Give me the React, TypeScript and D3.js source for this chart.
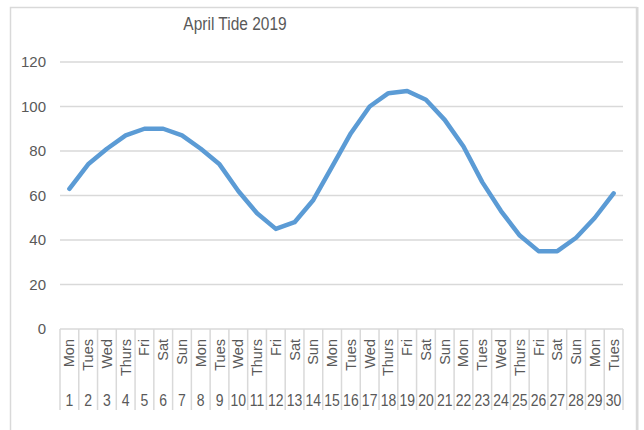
import React from "react";
import * as d3 from "d3";

const days = ["Mon","Tues","Wed","Thurs","Fri","Sat","Sun","Mon","Tues","Wed","Thurs","Fri","Sat","Sun","Mon","Tues","Wed","Thurs","Fri","Sat","Sun","Mon","Tues","Wed","Thurs","Fri","Sat","Sun","Mon","Tues"];
const dates = ["1","2","3","4","5","6","7","8","9","10","11","12","13","14","15","16","17","18","19","20","21","22","23","24","25","26","27","28","29","30"];
const tide = [63,74,81,87,90,90,87,81,74,62,52,45,48,58,73,88,100,106,107,103,94,82,66,53,42,35,35,41,50,61];
const yTicks = [0,20,40,60,80,100,120];
const title = "April Tide 2019";

const W = 644, H = 430;
const left = 60, right = 623, top = 62, bottom = 329;
const FONT = "'Liberation Sans', Arial, sans-serif";
const TXT = "#595959";
const GRID = "#d9d9d9";

export default function App() {
  const x = d3.scaleBand<number>().domain(d3.range(tide.length)).range([left, right]).padding(0);
  const y = d3.scaleLinear().domain([0, 120]).range([bottom, top]);
  const line = d3.line<number>().x((_, i) => (x(i) as number) + x.bandwidth() / 2).y((d) => y(d));
  const bounds = d3.range(tide.length + 1).map((i) => left + i * x.bandwidth());
  return (
    <svg width={W} height={H} style={{ position: "absolute", left: 0, top: 0, background: "#fff" }} fontFamily={FONT}>
      <rect x={10.5} y={7.5} width={626} height={440} fill="#fff" stroke={GRID} strokeWidth={1.5} />
      <line x1={637.5} x2={637.5} y1={7} y2={H} stroke={GRID} strokeWidth={2} />
      <text transform="translate(235,30) scale(1,1.15)" textAnchor="middle" fontSize={15.5} fill={TXT}>{title}</text>
      {yTicks.map((t) => (
        <g key={t}>
          <line x1={left} x2={right} y1={y(t)} y2={y(t)} stroke={GRID} strokeWidth={1.5} />
          <text x={46} y={y(t)} dy="0.35em" textAnchor="end" fontSize={15} fill={TXT}>{t}</text>
        </g>
      ))}
      {bounds.map((b, i) => (
        <line key={i} x1={b} x2={b} y1={bottom} y2={410} stroke={GRID} strokeWidth={1.5} />
      ))}
      {days.map((d, i) => {
        const cx = (x(i) as number) + x.bandwidth() / 2;
        return (
          <g key={i}>
            <text transform={`translate(${cx + 5},339) rotate(-90)`} textAnchor="end" fontSize={14.5} fill={TXT}>{d}</text>
            <text transform={`translate(${cx},406) scale(1,1.15)`} textAnchor="middle" fontSize={14} fill={TXT}>{dates[i]}</text>
          </g>
        );
      })}
      <path d={line(tide) || ""} fill="none" stroke="#5b9bd5" strokeWidth={4.5} strokeLinejoin="round" strokeLinecap="round" />
    </svg>
  );
}
